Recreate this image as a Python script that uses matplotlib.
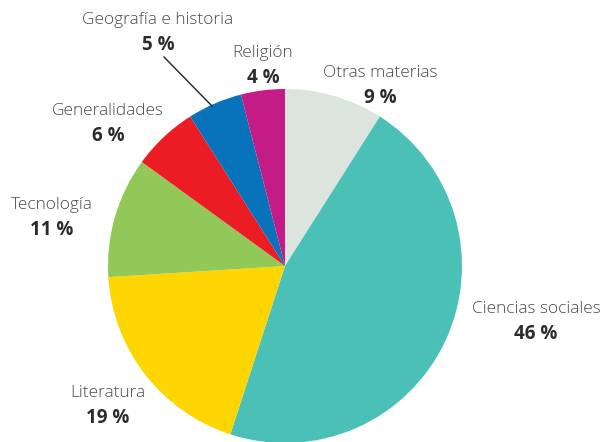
import matplotlib
matplotlib.use("Agg")
import matplotlib.pyplot as plt

# ─── data ─────────────────────────────────────────────────────────
materias = ["Otras materias", "Ciencias sociales", "Literatura", "Tecnología",
            "Generalidades", "Geografía e historia", "Religión"]
porcentajes = [9, 46, 19, 11, 6, 5, 4]
colores = ["#dce4de", "#4bc0b7", "#fdd500", "#92c857",
           "#ec1c24", "#0872bb", "#c51b86"]

# label anchor (pixel coords, y from top)
label_pos = {
    "Otras materias":       (380, 73),
    "Ciencias sociales":    (536, 309),
    "Literatura":           (108, 393),
    "Tecnología":           (52, 205),
    "Generalidades":        (108, 111),
    "Geografía e historia": (158, 20),
    "Religión":             (263, 53),
}

W, H = 604, 442
fig = plt.figure(figsize=(W / 100, H / 100), dpi=100)
ax = fig.add_axes([0, 0, 1, 1])

cx, cy, r = 285, 266, 177
ax.pie(porcentajes, colors=colores, startangle=90, counterclock=False,
       center=(cx, H - cy), radius=r, frame=True,
       wedgeprops=dict(linewidth=0))
ax.set_xlim(0, W)
ax.set_ylim(0, H)
ax.set_aspect("equal")
ax.axis("off")

for name, pct in zip(materias, porcentajes):
    x, y = label_pos[name]
    ax.text(x, H - y, name, ha="center", va="center", fontsize=12.4,
            family="Open Sans", color="#4a4a4a", fontweight="light")
    ax.text(x, H - y - 25, f"{pct} %", ha="center", va="center",
            fontsize=13.5, family="Open Sans", color="#2b2b2b",
            fontweight="bold")

# leader line for Geografía e historia
ax.plot([164, 212], [H - 57, H - 106], color="#222222", lw=1)

fig.savefig("out.png", dpi=100)
